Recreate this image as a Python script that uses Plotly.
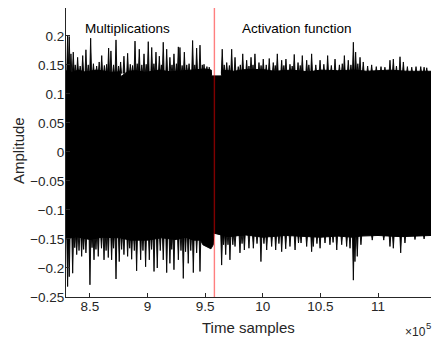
import plotly.graph_objects as go

# ---- data (x in units of 1e5 time samples, amplitude values) ----
# body edge of the trace (upper / lower envelope between the spikes)
up_base_x = [8.292, 8.34, 8.40, 8.45, 8.50, 8.55, 8.60, 8.68, 8.76, 8.77, 8.83, 8.90, 8.98, 9.10, 9.20, 9.30, 9.38, 9.45, 9.50, 9.553,
             9.556, 9.640, 9.645, 9.75, 9.85, 10.0, 10.1, 10.25, 10.4, 10.5, 10.65, 10.8, 10.9, 11.0, 11.1, 11.25, 11.46]
up_base_v = [0.140, 0.137, 0.141, 0.138, 0.139, 0.141, 0.140, 0.137, 0.138, 0.130, 0.139, 0.140, 0.137, 0.141, 0.138, 0.140, 0.141, 0.142, 0.143, 0.141,
             0.131, 0.131, 0.141, 0.139, 0.142, 0.142, 0.139, 0.141, 0.138, 0.141, 0.140, 0.141, 0.139, 0.140, 0.141, 0.139, 0.139]
lo_base_x = [8.292, 8.38, 8.50, 8.60, 8.76, 8.85, 9.00, 9.12, 9.25, 9.33, 9.40, 9.46, 9.48, 9.55, 9.57, 9.575, 9.60, 9.70, 9.85,
             10.0, 10.2, 10.5, 10.65, 10.78, 10.85, 11.0, 11.2, 11.46]
lo_base_v = [-0.150, -0.146, -0.151, -0.147, -0.148, -0.152, -0.152, -0.148, -0.151, -0.147, -0.152, -0.152, -0.160, -0.167, -0.160, -0.140, -0.141, -0.146, -0.143,
             -0.147, -0.144, -0.147, -0.145, -0.147, -0.145, -0.144, -0.146, -0.144]

# positive spikes (position, peak amplitude)
up_spike_x = [8.306, 8.320, 8.335, 8.355, 8.372, 8.393, 8.415, 8.437, 8.465, 8.485, 8.506, 8.530, 8.558, 8.580, 8.602, 8.625,
              8.645, 8.662, 8.682, 8.705, 8.726, 8.748, 8.766, 8.795, 8.827, 8.850, 8.870, 8.891, 8.910, 8.928, 8.950, 8.969,
              8.988, 9.006, 9.036, 9.055, 9.073, 9.102, 9.120, 9.136, 9.166, 9.194, 9.212, 9.229, 9.250, 9.267, 9.281, 9.300,
              9.319, 9.340, 9.360, 9.391, 9.410, 9.426, 9.455, 9.475, 9.490, 9.515, 9.535,
              9.648, 9.665, 9.687, 9.710, 9.730, 9.759, 9.787, 9.805, 9.826, 9.860, 9.880, 9.898, 9.915, 9.932, 9.967, 9.985,
              10.004, 10.030, 10.056, 10.091, 10.108, 10.126, 10.164, 10.183, 10.201, 10.236, 10.255, 10.273, 10.306, 10.325,
              10.343, 10.381, 10.400, 10.424, 10.460, 10.497, 10.530, 10.563, 10.595, 10.627, 10.665, 10.690, 10.708, 10.742,
              10.765, 10.786, 10.806, 10.825, 10.844, 10.872, 10.910, 10.945, 10.985, 11.026, 11.060, 11.104, 11.133, 11.160,
              11.191, 11.220, 11.255, 11.293, 11.330, 11.371, 11.400, 11.423]
up_spike_v = [0.201, 0.199, 0.169, 0.172, 0.150, 0.163, 0.148, 0.166, 0.176, 0.150, 0.196, 0.152, 0.148, 0.155, 0.166, 0.149,
              0.151, 0.179, 0.174, 0.150, 0.193, 0.148, 0.155, 0.165, 0.170, 0.151, 0.149, 0.191, 0.152, 0.177, 0.150, 0.169,
              0.151, 0.190, 0.180, 0.152, 0.172, 0.165, 0.150, 0.189, 0.177, 0.163, 0.150, 0.169, 0.152, 0.181, 0.180, 0.149,
              0.172, 0.150, 0.152, 0.192, 0.150, 0.179, 0.184, 0.150, 0.151, 0.147, 0.146,
              0.177, 0.150, 0.154, 0.149, 0.177, 0.163, 0.147, 0.150, 0.169, 0.158, 0.148, 0.163, 0.150, 0.169, 0.154, 0.149,
              0.160, 0.150, 0.161, 0.154, 0.149, 0.169, 0.158, 0.149, 0.160, 0.151, 0.148, 0.168, 0.154, 0.149,
              0.166, 0.158, 0.150, 0.169, 0.150, 0.158, 0.151, 0.166, 0.149, 0.160, 0.150, 0.152, 0.166, 0.158,
              0.150, 0.189, 0.172, 0.152, 0.163, 0.155, 0.148, 0.150, 0.147, 0.147, 0.146, 0.158, 0.160, 0.148,
              0.164, 0.155, 0.147, 0.146, 0.147, 0.147, 0.146, 0.145]

# negative spikes (position, trough amplitude)
lo_spike_x = [8.306, 8.320, 8.350, 8.368, 8.385, 8.405, 8.428, 8.445, 8.465, 8.500, 8.518, 8.535, 8.552, 8.572, 8.600, 8.622,
              8.640, 8.659, 8.688, 8.705, 8.726, 8.754, 8.775, 8.795, 8.827, 8.845, 8.862, 8.885, 8.905, 8.940, 8.960, 8.983,
              9.015, 9.035, 9.056, 9.084, 9.110, 9.136, 9.166, 9.194, 9.210, 9.229, 9.267, 9.290, 9.310, 9.330, 9.353, 9.375,
              9.397, 9.426, 9.455,
              9.643, 9.660, 9.678, 9.698, 9.715, 9.740, 9.759, 9.802, 9.820, 9.840, 9.880, 9.918, 9.950, 9.984, 10.010, 10.034,
              10.077, 10.112, 10.140, 10.164, 10.199, 10.236, 10.280, 10.310, 10.332, 10.381, 10.424, 10.438, 10.470, 10.497,
              10.540, 10.583, 10.610, 10.642, 10.685, 10.728, 10.757, 10.786, 10.800, 10.820, 10.852, 10.950, 11.050,
              11.104, 11.133, 11.197, 11.234, 11.321, 11.400]
lo_spike_v = [-0.232, -0.215, -0.209, -0.165, -0.177, -0.170, -0.180, -0.168, -0.174, -0.229, -0.165, -0.186, -0.168, -0.180, -0.166, -0.186,
              -0.170, -0.182, -0.186, -0.166, -0.219, -0.189, -0.168, -0.177, -0.180, -0.166, -0.185, -0.170, -0.205, -0.186, -0.170, -0.198,
              -0.186, -0.168, -0.206, -0.200, -0.170, -0.186, -0.208, -0.192, -0.168, -0.203, -0.186, -0.170, -0.218, -0.172, -0.192, -0.170,
              -0.208, -0.174, -0.206,
              -0.195, -0.160, -0.177, -0.160, -0.186, -0.160, -0.163, -0.174, -0.158, -0.169, -0.166, -0.166, -0.158, -0.189, -0.158, -0.169,
              -0.163, -0.169, -0.158, -0.172, -0.167, -0.163, -0.169, -0.157, -0.157, -0.163, -0.172, -0.163, -0.158, -0.166,
              -0.157, -0.160, -0.156, -0.169, -0.160, -0.163, -0.166, -0.221, -0.189, -0.180, -0.160, -0.152, -0.152,
              -0.163, -0.166, -0.174, -0.157, -0.151, -0.150]

boundary_x = 9.58
section_labels = ["Multiplications", "Activation function"]
section_label_x = [8.83, 10.30]
section_label_y = 0.213

xtick_vals = [8.5, 9, 9.5, 10, 10.5, 11]
xtick_text = ["8.5", "9", "9.5", "10", "10.5", "11"]
ytick_vals = [-0.25, -0.2, -0.15, -0.1, -0.05, 0, 0.05, 0.1, 0.15, 0.2]
ytick_text = ["\u22120.25", "\u22120.2", "\u22120.15", "\u22120.1", "\u22120.05", "0", "0.05", "0.1", "0.15", "0.2"]
x_range = [8.292, 11.46]
y_range = [-0.25, 0.248]
x_exponent = "5"

FONT = "Liberation Sans, Arial, Helvetica, sans-serif"
AX = "#262626"

W, H = 432, 339
L, R, T, B = 66, 1, 8, 42
PW, PH = W - L - R, H - T - B

fig = go.Figure()

# body of the trace
body_x = up_base_x + lo_base_x[::-1]
body_y = up_base_v + lo_base_v[::-1]
fig.add_trace(go.Scatter(x=body_x, y=body_y, mode="lines", fill="toself",
                         fillcolor="black", line=dict(color="black", width=1),
                         hoverinfo="skip"))

def spike_path(xs, vs, base, hw=0.008):
    X, Y = [], []
    for x, v in zip(xs, vs):
        X += [x - hw, x, x + hw, None]
        Y += [base, v, base, None]
    return X, Y

sx, sy = spike_path(up_spike_x, up_spike_v, 0.135)
fig.add_trace(go.Scatter(x=sx, y=sy, mode="lines", fill="toself", fillcolor="black",
                         line=dict(color="black", width=0.9), hoverinfo="skip"))
sx, sy = spike_path(lo_spike_x, lo_spike_v, -0.141)
fig.add_trace(go.Scatter(x=sx, y=sy, mode="lines", fill="toself", fillcolor="black",
                         line=dict(color="black", width=0.9), hoverinfo="skip"))

# boundary marker
fig.add_shape(type="line", x0=boundary_x, x1=boundary_x, y0=0, y1=1, xref="x", yref="paper",
              line=dict(color="rgba(255,0,0,0.5)", width=1.4), layer="above")

for txt, lx in zip(section_labels, section_label_x):
    fig.add_annotation(x=lx, y=section_label_y, xref="x", yref="y", text=txt, showarrow=False,
                       font=dict(family=FONT, size=13.5, color="black"), xanchor="center", yanchor="middle")

# axis titles and exponent (positions given in page pixels -> paper coords)
def px(xp):
    return (xp - L) / PW
def py(yp):
    return (H - B - yp) / PH

fig.add_annotation(x=px(18), y=py(151), xref="paper", yref="paper",
                   text="Amplitude", textangle=-90, showarrow=False,
                   font=dict(family=FONT, size=15, color=AX), xanchor="center", yanchor="middle")
fig.add_annotation(x=px(248), y=py(327), xref="paper", yref="paper",
                   text="Time samples", showarrow=False,
                   font=dict(family=FONT, size=15, color=AX), xanchor="center", yanchor="middle")
fig.add_annotation(x=px(427.5), y=py(332), xref="paper", yref="paper",
                   text="\u00d710", showarrow=False,
                   font=dict(family=FONT, size=12, color=AX), xanchor="right", yanchor="middle")
fig.add_annotation(x=px(424), y=py(325), xref="paper", yref="paper",
                   text=x_exponent, showarrow=False,
                   font=dict(family=FONT, size=9.5, color=AX), xanchor="left", yanchor="middle")

fig.update_layout(
    width=W, height=H,
    margin=dict(l=L, r=R, t=T, b=B, pad=0),
    paper_bgcolor="white", plot_bgcolor="white",
    showlegend=False,
    xaxis=dict(range=x_range, tickvals=xtick_vals, ticktext=xtick_text,
               showline=True, linecolor=AX, linewidth=1, ticks="inside", ticklen=4,
               tickcolor=AX, showgrid=False, zeroline=False, mirror=False,
               ticklabelstandoff=-3,
               tickfont=dict(family=FONT, size=13.5, color=AX)),
    yaxis=dict(range=y_range, tickvals=ytick_vals, ticktext=ytick_text,
               showline=True, linecolor=AX, linewidth=1, ticks="inside", ticklen=4,
               tickcolor=AX, showgrid=False, zeroline=False, mirror=False,
               ticklabelstandoff=-2,
               tickfont=dict(family=FONT, size=13.5, color=AX)),
)

fig.write_html("out.html", config={"displayModeBar": False},
               post_script="document.body.style.margin='0';document.body.style.overflow='hidden';")
